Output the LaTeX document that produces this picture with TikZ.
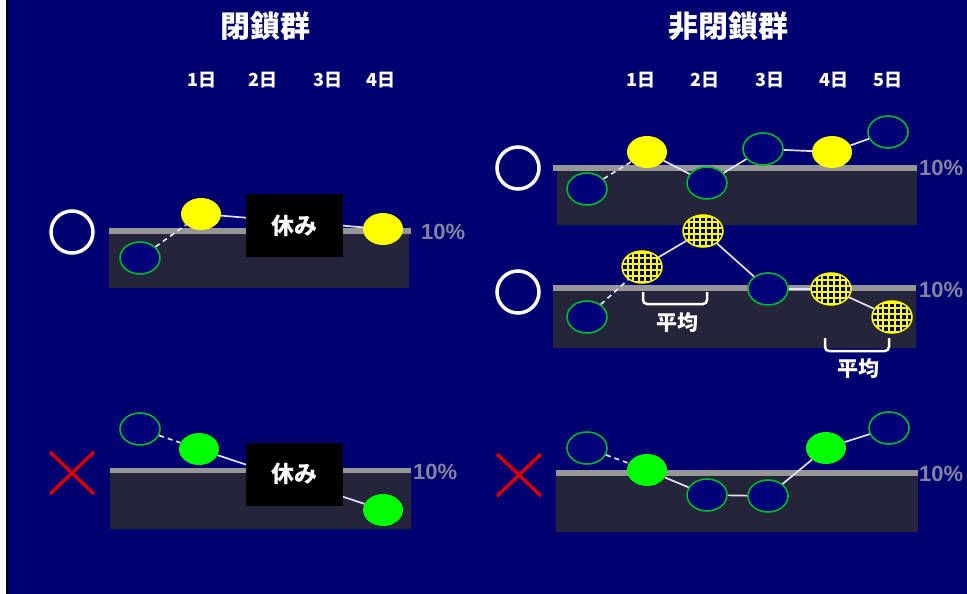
\documentclass[tikz,border=0pt]{standalone}
\usepackage{fontspec}
\setmainfont{Liberation Sans}
\newfontfamily\jp{Noto Sans CJK JP}
\usetikzlibrary{shapes.geometric}
\definecolor{bg}{RGB}{0,0,112}
\definecolor{panel}{RGB}{36,36,58}
\definecolor{bar}{RGB}{150,150,150}
\definecolor{pct}{RGB}{132,132,160}
\definecolor{navyell}{RGB}{0,0,120}
\definecolor{ringgreen}{RGB}{0,185,40}
\definecolor{lime}{RGB}{0,255,0}
\definecolor{yel}{RGB}{255,255,0}
\definecolor{conncol}{RGB}{225,225,255}
\definecolor{xred}{RGB}{210,0,0}
\begin{document}
\begin{tikzpicture}[x=1pt,y=-1pt,
  ell/.style={shape=ellipse, minimum width=40pt, minimum height=32pt, inner sep=0pt},
  blueell/.style={ell, fill=navyell, draw=ringgreen, line width=1.6pt},
  yelell/.style={ell, fill=yel},
  greenell/.style={ell, fill=lime},
  hatchell/.style={ell, fill=yel, draw=yel, line width=1.5pt,
    path picture={
      \foreach \i in {-4,...,4}{
        \foreach \j in {-3,...,3}{
          \fill[navyell] ([shift={(\i*5.8pt-1.9pt,\j*5.8pt-1.9pt)}]path picture bounding box.center) rectangle ++(3.8pt,3.8pt);
          \fill[yel] ([shift={(\i*5.8pt+2.9pt,\j*5.8pt+2.9pt)}]path picture bounding box.center) circle[radius=1.5pt];
        }
      }
    }},
  conn/.style={draw=conncol, line width=1.7pt},
  dashconn/.style={conn, dash pattern=on 5pt off 4pt},
  restbox/.style={fill=black, minimum width=97pt, minimum height=63pt, inner sep=0pt,
    text=white, font=\jp\bfseries\fontsize{23}{26}\selectfont},
  title/.style={text=white, font=\jp\bfseries\fontsize{30}{34}\selectfont},
  daylab/.style={text=white, font=\jp\bfseries\fontsize{18}{20}\selectfont},
  pctlab/.style={text=pct, font=\bfseries\fontsize{22}{24}\selectfont, anchor=west, inner sep=0pt},
  avg/.style={text=white, font=\jp\bfseries\fontsize{21}{24}\selectfont},
  okmark/.style={draw=white, line width=3.5pt},
  ngmark/.style={draw=xred, line width=3.5pt},
  brk/.style={draw=white, line width=2.5pt, rounded corners=4pt}
]
\useasboundingbox (0,0) rectangle (967,594);
\fill[white] (0,0) rectangle (6,594);
\fill[black] (6,0) rectangle (8,594);
\fill[bg] (8,0) rectangle (967,594);

% titles
\node[title] (t1) at (265,26) {閉鎖群};
\node[title] (t2) at (728,26) {非閉鎖群};
% day labels
\node[daylab] (l1) at (202,80) {1日};
\node[daylab] (l2) at (263,80) {2日};
\node[daylab] (l3) at (328,80) {3日};
\node[daylab] (l4) at (381,80) {4日};
\node[daylab] (r1) at (641,80) {1日};
\node[daylab] (r2) at (705,80) {2日};
\node[daylab] (r3) at (770,80) {3日};
\node[daylab] (r4) at (834,80) {4日};
\node[daylab] (r5) at (888,80) {5日};

% panels
\fill[panel] (109,231) rectangle (409,288);
\fill[bar] (109,228) rectangle (411,233.5);
\fill[panel] (110,472) rectangle (411,529);
\fill[bar] (110,468) rectangle (411,473);
\fill[panel] (557,170) rectangle (917,225);
\fill[bar] (553,165) rectangle (917,171);
\fill[panel] (553,290) rectangle (916,348);
\fill[bar] (553,285) rectangle (916,291);
\fill[panel] (556,475) rectangle (918,532);
\fill[bar] (556,470) rectangle (918,475.5);

% 10% labels
\node[pctlab] (p1) at (421,232) {10\%};
\node[pctlab] (p2) at (413,472) {10\%};
\node[pctlab] (p3) at (919,168) {10\%};
\node[pctlab] (p4) at (919,290) {10\%};
\node[pctlab] (p5) at (919,474) {10\%};

% marks
\draw[okmark] (72,232) circle[radius=21];
\draw[okmark] (518,168) circle[radius=21];
\draw[okmark] (518,292) circle[radius=21];
\draw[ngmark] (50,452) -- (94,494) (94,452) -- (50,494);
\draw[ngmark] (497,454) -- (541,496) (541,454) -- (497,496);

% left top
\node[blueell] (a1) at (140,258) {};
\node[yelell] (a2) at (201,214) {};
\node[yelell] (a4) at (383,229) {};
\draw[dashconn] (a1) -- (a2);
\draw[conn] (a2) -- (a4);
\node[restbox] (ra) at (294.5,225.5) {休み};

% left bottom
\node[blueell] (b1) at (140,429) {};
\node[greenell] (b2) at (199,449) {};
\node[greenell] (b4) at (383,510) {};
\draw[dashconn] (b1) -- (b2);
\draw[conn] (b2) -- (b4);
\node[restbox] (rb) at (294.5,474) {休み};

% right top
\node[blueell] (c1) at (587,189) {};
\node[yelell] (c2) at (647,152) {};
\node[blueell] (c3) at (707,183) {};
\node[blueell] (c4) at (763,149) {};
\node[yelell] (c5) at (832,152) {};
\node[blueell] (c6) at (888,132) {};
\draw[dashconn] (c1) -- (c2);
\draw[conn] (c2) -- (c3) (c3) -- (c4) (c4) -- (c5) (c5) -- (c6);

% right middle
\node[blueell] (d1) at (587,317) {};
\node[hatchell] (d2) at (642,267) {};
\node[hatchell] (d3) at (703,231) {};
\node[blueell] (d4) at (768,289) {};
\node[hatchell] (d5) at (831,289) {};
\node[hatchell] (d6) at (892,317) {};
\draw[dashconn] (d1) -- (d2);
\draw[conn] (d2) -- (d3) (d3) -- (d4) (d4) -- (d5) (d5) -- (d6);
\draw[brk] (643,292) -- (643,304) -- (707,304) -- (707,292);
\node[avg] (av1) at (677,323) {平均};
\draw[brk] (825,338) -- (825,351) -- (889,351) -- (889,338);
\node[avg] (av2) at (858,369) {平均};

% right bottom
\node[blueell] (e1) at (587,448) {};
\node[greenell] (e2) at (647,470) {};
\node[blueell] (e3) at (707,495) {};
\node[blueell] (e4) at (768,496) {};
\node[greenell] (e5) at (826,448) {};
\node[blueell] (e6) at (889,428) {};
\draw[dashconn] (e1) -- (e2);
\draw[conn] (e2) -- (e3) (e3) -- (e4) (e4) -- (e5) (e5) -- (e6);
\end{tikzpicture}
\end{document}
